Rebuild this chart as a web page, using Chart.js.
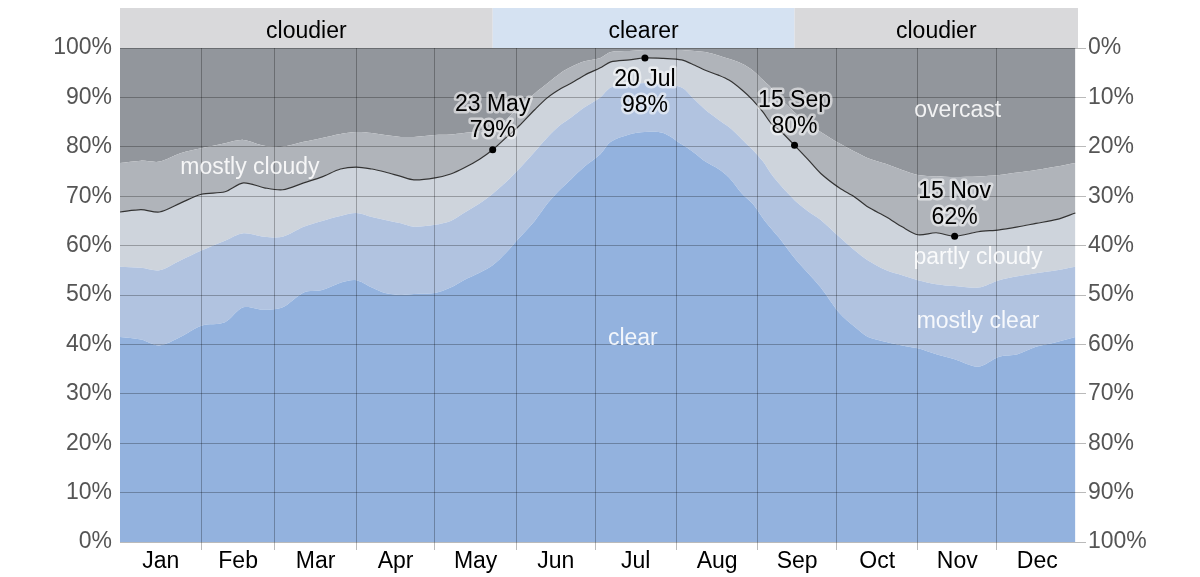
<!DOCTYPE html>
<html>
<head>
<meta charset="utf-8">
<script src="https://cdn.jsdelivr.net/npm/chart.js@4.4.1/dist/chart.umd.min.js"></script>
<style>
  html, body { margin: 0; padding: 0; background: #fff; }
  canvas { display: block; }
</style>
</head>
<body>
<canvas id="cloudChart" width="1200" height="577"></canvas>
<script>
// day of year (0 = 1 Jan) for each sample
const days = [0, 8, 15, 23, 31, 40, 47, 55, 62, 70, 77, 84, 90, 96, 101, 107, 112, 120, 126, 131,
  137, 142, 147, 152, 158, 163, 168, 172, 177, 183, 187, 194, 200, 207, 214, 219, 223, 228, 232, 237,
  241, 245, 248, 252, 257, 262, 267, 274, 280, 285, 292, 298, 304, 311, 318, 327, 335, 342, 349, 357, 364];

// cumulative % of time (upper edge of each band)
const clearTop = [41.5, 41.0, 39.8, 41.5, 43.8, 44.5, 47.5, 47.0, 47.5, 50.5, 51.0, 52.5, 53.0, 51.5, 50.4, 50.0, 50.2, 50.4, 51.5, 53.0,
  54.5, 56.0, 58.5, 61.5, 65.0, 68.6, 71.5, 73.5, 76.0, 78.5, 81.0, 82.5, 83.0, 82.8, 80.5, 78.7, 77.0, 75.5, 73.8, 70.5,
  68.5, 65.5, 63.5, 61.0, 57.5, 54.5, 51.5, 46.4, 43.5, 41.5, 40.5, 39.8, 39.2, 38.0, 37.0, 35.5, 37.5, 38.0, 39.5, 40.5, 41.5];
const mostlyClearTop = [55.7, 55.5, 55.0, 57.0, 59.0, 61.0, 62.5, 61.8, 61.8, 63.8, 65.0, 66.0, 66.6, 65.8, 65.2, 64.5, 63.8, 64.2, 65.0, 66.6,
  68.5, 70.5, 72.8, 75.5, 79.0, 82.0, 84.5, 86.0, 88.0, 90.0, 92.0, 92.6, 92.9, 92.6, 92.0, 89.5, 87.5, 85.5, 84.0, 81.5,
  79.4, 77.0, 74.6, 72.0, 69.2, 67.0, 65.2, 61.8, 59.0, 57.0, 55.0, 54.0, 53.0, 52.2, 51.8, 51.5, 53.0, 53.8, 54.4, 55.0, 55.7];
const partlyCloudyTop = [66.8, 67.3, 66.8, 68.6, 70.4, 70.9, 72.7, 71.7, 71.3, 72.7, 73.9, 75.5, 75.9, 75.5, 74.9, 74.0, 73.3, 73.7, 74.5, 75.7,
  77.5, 79.4, 81.8, 84.2, 87.5, 90.0, 91.8, 92.9, 94.5, 96.0, 97.2, 97.6, 98.0, 97.9, 97.6, 96.5, 95.5, 94.5, 93.5, 91.5,
  89.5, 87.0, 84.8, 83.0, 80.3, 77.5, 74.6, 71.7, 69.8, 67.8, 65.8, 63.8, 62.2, 62.6, 61.9, 62.8, 63.2, 63.8, 64.5, 65.3, 66.6];
const mostlyCloudyTop = [76.7, 77.2, 77.0, 78.7, 79.7, 80.7, 81.4, 80.2, 80.0, 81.0, 81.8, 82.6, 83.0, 82.8, 82.4, 82.0, 82.0, 82.4, 82.5, 82.8,
  83.2, 84.0, 85.5, 88.0, 90.8, 92.9, 95.0, 96.2, 97.3, 98.0, 99.2, 99.4, 99.6, 99.6, 99.6, 99.4, 99.2, 98.5, 97.8, 96.8,
  95.5, 93.5, 92.0, 89.5, 87.0, 84.8, 83.0, 80.7, 79.0, 77.7, 76.5, 75.3, 74.3, 74.0, 73.9, 74.0, 74.3, 74.8, 75.3, 76.0, 76.7];

const monthNames = ['Jan', 'Feb', 'Mar', 'Apr', 'May', 'Jun', 'Jul', 'Aug', 'Sep', 'Oct', 'Nov', 'Dec'];
const monthStarts = [0, 31, 59, 90, 120, 151, 181, 212, 243, 273, 304, 334, 365];

// seasons shown in the band above the chart
const seasonNames = ['cloudier', 'clearer', 'cloudier'];
const seasonStarts = [0, 142, 257];
const seasonEnds = [142, 257, 365];

// highlighted points on the black line
const highlightDays = [142, 200, 257, 318];
const highlightNames = ['23 May', '20 Jul', '15 Sep', '15 Nov'];

const FONT = '"Liberation Sans", Arial, Helvetica, sans-serif';
const GRID = 'rgba(0, 0, 0, 0.27)';

const toPoints = (arr) => days.map((d, i) => ({ x: d, y: arr[i] }));

// band of seasons above the plot
const seasonBand = {
  id: 'seasonBand',
  beforeDraw(chart) {
    const { ctx, chartArea, scales: { x } } = chart;
    ctx.save();
    seasonNames.forEach((name, i) => {
      const x0 = x.getPixelForValue(seasonStarts[i]);
      const x1 = x.getPixelForValue(seasonEnds[i]);
      ctx.fillStyle = name === 'clearer' ? '#d5e2f2' : '#d9d9db';
      ctx.fillRect(x0, 8, x1 - x0, chartArea.top - 8);
      ctx.fillStyle = '#000';
      ctx.font = '23px ' + FONT;
      ctx.textAlign = 'center';
      ctx.textBaseline = 'middle';
      ctx.fillText(name, (x0 + x1) / 2, 32);
    });
    ctx.restore();
  }
};

// band names and highlighted values
const chartTexts = {
  id: 'chartTexts',
  afterDraw(chart) {
    const { ctx, scales: { x, y } } = chart;
    ctx.save();
    ctx.font = '23px ' + FONT;
    ctx.textAlign = 'center';
    ctx.textBaseline = 'middle';

    const bandLabels = [
      { text: 'mostly cloudy', day: 49.5, value: 75.7 },
      { text: 'overcast', day: 319.2, value: 87.4 },
      { text: 'partly cloudy', day: 326.9, value: 57.5 },
      { text: 'mostly clear', day: 326.9, value: 44.7 },
      { text: 'clear', day: 195.4, value: 41.1 }
    ];
    ctx.fillStyle = 'rgba(255, 255, 255, 0.88)';
    bandLabels.forEach(l => {
      ctx.fillText(l.text, x.getPixelForValue(l.day), y.getPixelForValue(l.value));
    });

    const above = [true, false, true, true];
    ctx.lineJoin = 'round';
    highlightDays.forEach((d, i) => {
      const v = partlyCloudyTop[days.indexOf(d)];
      const px = x.getPixelForValue(d);
      const py = y.getPixelForValue(v);
      const lines = [highlightNames[i], Math.round(v) + '%'];
      const ys = above[i] ? [py - 45, py - 19] : [py + 22, py + 48];
      lines.forEach((t, k) => {
        ctx.strokeStyle = 'rgba(255, 255, 255, 0.55)';
        ctx.lineWidth = 5;
        ctx.strokeText(t, px, ys[k]);
        ctx.fillStyle = '#000';
        ctx.fillText(t, px, ys[k]);
      });
    });
    ctx.restore();
  }
};

const band = (data, color, fill, extra) => Object.assign({
  data: toPoints(data),
  backgroundColor: color,
  borderWidth: 0,
  pointRadius: 0,
  tension: 0.3,
  fill: fill
}, extra || {});

new Chart(document.getElementById('cloudChart'), {
  type: 'line',
  data: {
    datasets: [
      {
        data: highlightDays.map(d => ({ x: d, y: partlyCloudyTop[days.indexOf(d)] })),
        showLine: false,
        pointRadius: 3.5,
        pointBackgroundColor: '#000',
        pointBorderWidth: 0,
        order: 0
      },
      band(clearTop, '#93b2de', 'origin', { order: 1 }),
      band(mostlyClearTop, '#b1c3e0', '-1', { order: 2 }),
      band(partlyCloudyTop, '#ced4dc', '-1', { order: 3, borderWidth: 1.2, borderColor: '#333' }),
      band(mostlyCloudyTop, '#b0b4ba', '-1', { order: 4 }),
      band(mostlyCloudyTop, '#92969c', 'end', { order: 5 })
    ]
  },
  options: {
    responsive: false,
    animation: false,
    layout: { padding: { top: 48, left: 0, right: 0, bottom: 0 } },
    plugins: { legend: { display: false }, tooltip: { enabled: false } },
    scales: {
      x: {
        type: 'linear',
        min: 0,
        max: 365,
        z: 1,
        border: { display: false },
        afterBuildTicks(axis) {
          const ticks = [];
          monthStarts.forEach((d, i) => {
            ticks.push({ value: d });
            if (i < 12) ticks.push({ value: (d + monthStarts[i + 1]) / 2 });
          });
          axis.ticks = ticks;
        },
        afterFit(axis) { axis.height = 35; },
        grid: {
          z: 1,
          tickLength: 8,
          color: (c) => (c.index % 2 === 0 && c.index > 0 && c.index < 24) ? GRID : 'rgba(0,0,0,0)'
        },
        ticks: {
          autoSkip: false,
          maxRotation: 0,
          padding: 0,
          color: '#000',
          font: { family: FONT, size: 23, lineHeight: 1 },
          callback: (value, index) => index % 2 === 1 ? monthNames[(index - 1) / 2] : ''
        }
      },
      y: {
        min: 0,
        max: 100,
        z: 1,
        border: { display: false },
        afterFit(axis) { axis.width = 120; },
        grid: { z: 1, color: GRID, drawTicks: false },
        ticks: {
          stepSize: 10,
          padding: 8,
          color: '#555',
          font: { family: FONT, size: 23 },
          callback: v => v + '%'
        }
      },
      yRight: {
        position: 'right',
        min: 0,
        max: 100,
        reverse: true,
        z: 1,
        border: { display: false },
        afterFit(axis) { axis.width = 122; },
        grid: { color: GRID, drawOnChartArea: false, tickLength: 8 },
        ticks: {
          stepSize: 10,
          padding: 2,
          color: '#555',
          font: { family: FONT, size: 23 },
          callback: v => v + '%'
        }
      }
    }
  },
  plugins: [seasonBand, chartTexts]
});
</script>
</body>
</html>
